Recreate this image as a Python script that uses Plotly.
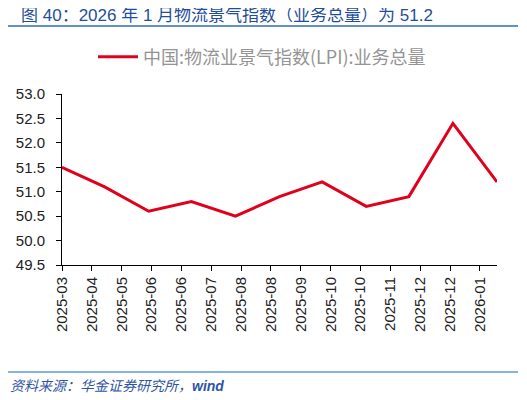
import plotly.graph_objects as go

dates = ["2025-03-31", "2025-04-30", "2025-05-31", "2025-06-30", "2025-07-31",
         "2025-08-31", "2025-09-30", "2025-10-31", "2025-11-30", "2025-12-31",
         "2026-01-31"]
lpi_volume = [51.5, 51.1, 50.6, 50.8, 50.5, 50.9, 51.2, 50.7, 50.9, 52.4, 51.2]
series_name = "中国:物流业景气指数(LPI):业务总量"
title_text = "图 40：2026 年 1 月物流景气指数（业务总量）为 51.2"
source_text = "资料来源：华金证券研究所，<b>wind</b>"

# page body adds an 8px margin, so lay out everything 8px up/left
OFF = 8
W, H = 527, 400
L, T = 62 - OFF, 94 - OFF
pw, ph = 435, 171
R = W - L - pw
B = H - T - ph

def px(x):  # screen pixel -> paper x
    return (x - OFF - L) / pw

def py(y):  # screen pixel -> paper y
    return (T + ph - (y - OFF)) / ph

fig = go.Figure()
fig.add_trace(go.Scatter(x=dates, y=lpi_volume, name=series_name,
                         mode="lines", line=dict(color="#E0001B", width=3)))

fig.update_layout(
    width=W, height=H,
    margin=dict(l=L, r=R, t=T, b=B),
    plot_bgcolor="white", paper_bgcolor="white",
    font=dict(family="Liberation Sans, Arial, Noto Sans CJK SC", color="#222"),
    title=dict(text=title_text, xref="container", yref="container",
               x=13 / W, xanchor="left", y=1 - (15 - OFF) / H, yanchor="middle",
               font=dict(family="Liberation Sans, Noto Sans CJK SC", size=17, color="#1F4E9A")),
    showlegend=True,
    legend=dict(orientation="h", xref="container", yref="container",
                x=(262 - OFF) / W, xanchor="center",
                y=1 - (57 - OFF) / H, yanchor="middle",
                font=dict(family="Noto Sans CJK SC", size=18, color="#949494"),
                itemwidth=40),
)

fig.update_xaxes(type="date", range=[dates[0], dates[-1]],
                 tick0=dates[0], dtick=21 * 86400000, tickformat="%Y-%m",
                 tickangle=-90, ticks="outside", ticklen=5, tickcolor="black",
                 showline=True, linecolor="black", linewidth=1, showgrid=False,
                 automargin=False,
                 tickfont=dict(size=15, color="#222"))
fig.update_yaxes(range=[49.5, 53.0], dtick=0.5, tickformat=".1f",
                 ticks="outside", ticklen=5, tickcolor="black",
                 ticklabelstandoff=8, automargin=False,
                 showline=True, linecolor="black", linewidth=1, showgrid=False,
                 zeroline=False, tickfont=dict(size=15, color="#222"))

fig.add_shape(type="line", xref="paper", yref="paper",
              x0=px(6), x1=px(518), y0=py(26), y1=py(26),
              line=dict(color="#2E6DB4", width=1.5))
fig.add_shape(type="line", xref="paper", yref="paper",
              x0=px(6), x1=px(518), y0=py(372), y1=py(372),
              line=dict(color="#5B9BD5", width=1.5))

fig.add_annotation(text="<i>" + source_text + "</i>", xref="paper", yref="paper",
                   x=px(OFF), y=py(386), xanchor="left", yanchor="middle",
                   showarrow=False,
                   font=dict(family="Liberation Sans, Noto Sans CJK SC", size=14, color="#2F55A4"))

fig.write_html("out.html")
